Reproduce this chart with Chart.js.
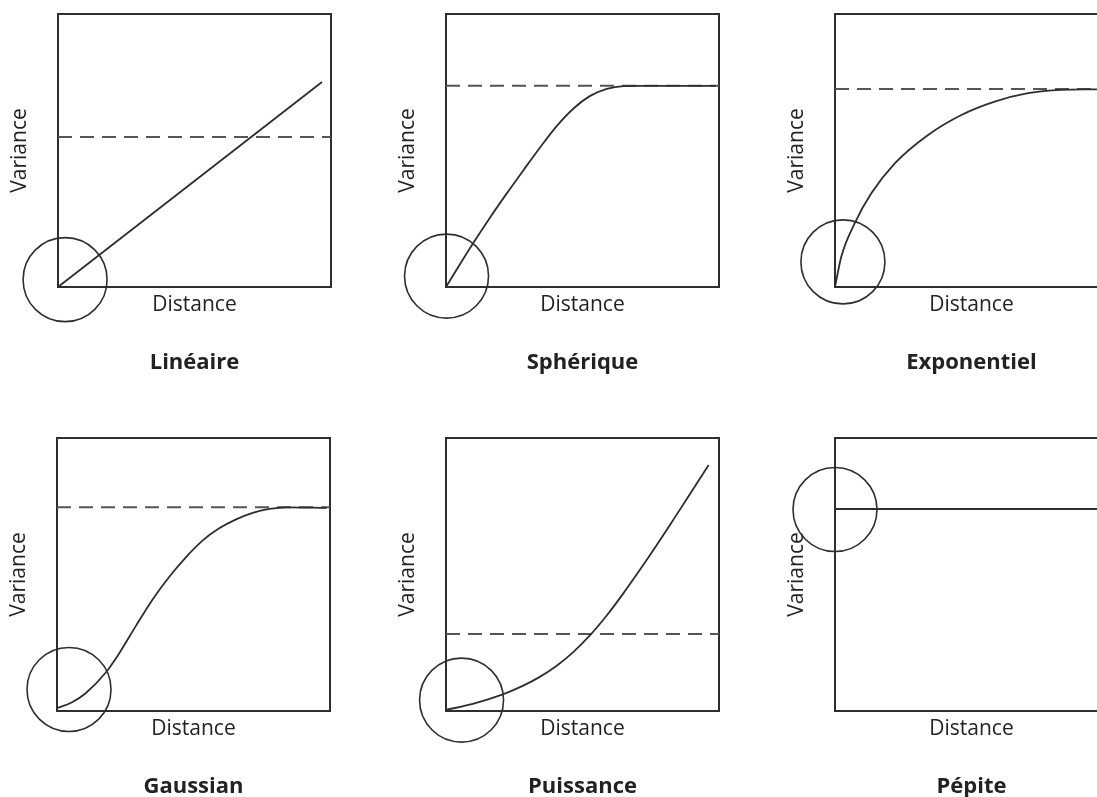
<!DOCTYPE html>
<html>
<head>
<meta charset="utf-8">
<script src="https://cdn.jsdelivr.net/npm/chart.js@4.4.0/dist/chart.umd.min.js"></script>
<style>
  html, body { margin: 0; padding: 0; background: #fff; }
  body { position: relative; width: 1097px; height: 797px; overflow: hidden; }
  .panel { position: absolute; width: 377px; height: 426px; }
</style>
</head>
<body>
<div class="panel" style="left:0px;top:-32px"><canvas id="c0" width="377" height="426"></canvas></div>
<div class="panel" style="left:388px;top:-32px"><canvas id="c1" width="377" height="426"></canvas></div>
<div class="panel" style="left:777px;top:-32px"><canvas id="c2" width="377" height="426"></canvas></div>
<div class="panel" style="left:-1px;top:392px"><canvas id="c3" width="377" height="426"></canvas></div>
<div class="panel" style="left:388px;top:392px"><canvas id="c4" width="377" height="426"></canvas></div>
<div class="panel" style="left:777px;top:392px"><canvas id="c5" width="377" height="426"></canvas></div>
<script>
// variogram models, distance and variance both scaled 0..1
const titles = ['Linéaire', 'Sphérique', 'Exponentiel', 'Gaussian', 'Puissance', 'Pépite'];

const linearX = [0, 0.967];
const linearY = [0, 0.751];

const sphericalX = [0, 0.094, 0.161, 0.222, 0.283, 0.346, 0.407, 0.467, 0.528, 0.589, 0.650, 0.711, 0.989];
const sphericalY = [0, 0.152, 0.254, 0.342, 0.427, 0.513, 0.591, 0.654, 0.700, 0.726, 0.736, 0.737, 0.737];

const exponentialX = [0, 0.023, 0.072, 0.133, 0.219, 0.341, 0.463, 0.585, 0.707, 0.829, 0.960, 1];
const exponentialY = [0, 0.111, 0.233, 0.343, 0.453, 0.557, 0.630, 0.679, 0.710, 0.722, 0.724, 0.725];

const gaussianX = [0, 0.055, 0.104, 0.178, 0.227, 0.288, 0.349, 0.410, 0.472, 0.533, 0.594, 0.656, 0.717, 0.778, 0.840, 0.987];
const gaussianY = [0.01, 0.032, 0.064, 0.140, 0.210, 0.310, 0.407, 0.490, 0.563, 0.624, 0.669, 0.702, 0.726, 0.740, 0.746, 0.744];

const powerX = [0, 0.098, 0.208, 0.281, 0.342, 0.403, 0.465, 0.527, 0.588, 0.649, 0.711, 0.772, 0.833, 0.895, 0.962];
const powerY = [0.004, 0.026, 0.061, 0.092, 0.124, 0.164, 0.215, 0.277, 0.349, 0.430, 0.518, 0.608, 0.701, 0.797, 0.901];

const nuggetX = [0, 1];
const nuggetY = [0.740, 0.740];

// dashed sill level per panel (none for the nugget)
const sills = [0.549, 0.737, 0.725, 0.746, 0.282, null];

// circled origin of each model
const circleX = [0.026, 0.002, 0.029, 0.044, 0.057, 0.0];
const circleY = [0.027, 0.040, 0.092, 0.079, 0.040, 0.738];

const curvesX = [linearX, sphericalX, exponentialX, gaussianX, powerX, nuggetX];
const curvesY = [linearY, sphericalY, exponentialY, gaussianY, powerY, nuggetY];

Chart.defaults.font.family = '"Open Sans", "Noto Sans", sans-serif';
Chart.defaults.color = '#222';

const ink = '#2e2e2e';

function frameAxis(position) {
    return {
        type: 'linear', position: position, min: 0, max: 1,
        grid: { display: false, drawTicks: false },
        ticks: { display: false },
        border: { display: true, color: ink, width: 2 }
    };
}

function makePanel(i) {
    const datasets = [];
    datasets.push({
        data: curvesX[i].map((x, k) => ({ x: x, y: curvesY[i][k] })),
        borderColor: ink,
        borderWidth: 1.8,
        pointRadius: 0,
        cubicInterpolationMode: 'monotone',
        fill: false,
        clip: false
    });
    if (sills[i] !== null) {
        datasets.push({
            data: [{ x: 0, y: sills[i] }, { x: 1, y: sills[i] }],
            borderColor: '#555',
            borderWidth: 2,
            borderDash: [14, 8],
            pointRadius: 0,
            fill: false,
            clip: false
        });
    }
    datasets.push({
        data: [{ x: circleX[i], y: circleY[i] }],
        showLine: false,
        pointRadius: 42,
        pointBorderWidth: 1.6,
        pointBorderColor: ink,
        pointBackgroundColor: 'rgba(0,0,0,0)',
        clip: false
    });

    const xAxis = frameAxis('bottom');
    xAxis.title = { display: true, text: 'Distance', color: '#222', font: { size: 21 }, padding: { top: 5.4, bottom: 0 } };
    const yAxis = frameAxis('left');
    yAxis.title = { display: true, text: 'Variance', color: '#222', font: { size: 21 }, padding: { top: 0, bottom: 25.4 } };

    new Chart(document.getElementById('c' + i), {
        type: 'line',
        data: { datasets: datasets },
        options: {
            responsive: false,
            animation: false,
            events: [],
            // the big origin circles need room, so the canvas overlaps its neighbours
            layout: { padding: { top: 46, left: 7.4, right: 46, bottom: 17.8 } },
            scales: {
                x: xAxis,
                y: yAxis,
                x2: frameAxis('top'),
                y2: frameAxis('right')
            },
            plugins: {
                legend: { display: false },
                tooltip: { enabled: false },
                title: {
                    display: true,
                    position: 'bottom',
                    fullSize: false,
                    text: titles[i],
                    color: '#222',
                    font: { size: 22, weight: 'bold' },
                    padding: { top: 32.2, bottom: 0 }
                }
            }
        }
    });
}

for (let i = 0; i < 6; i++) {
    makePanel(i);
}
</script>
</body>
</html>
